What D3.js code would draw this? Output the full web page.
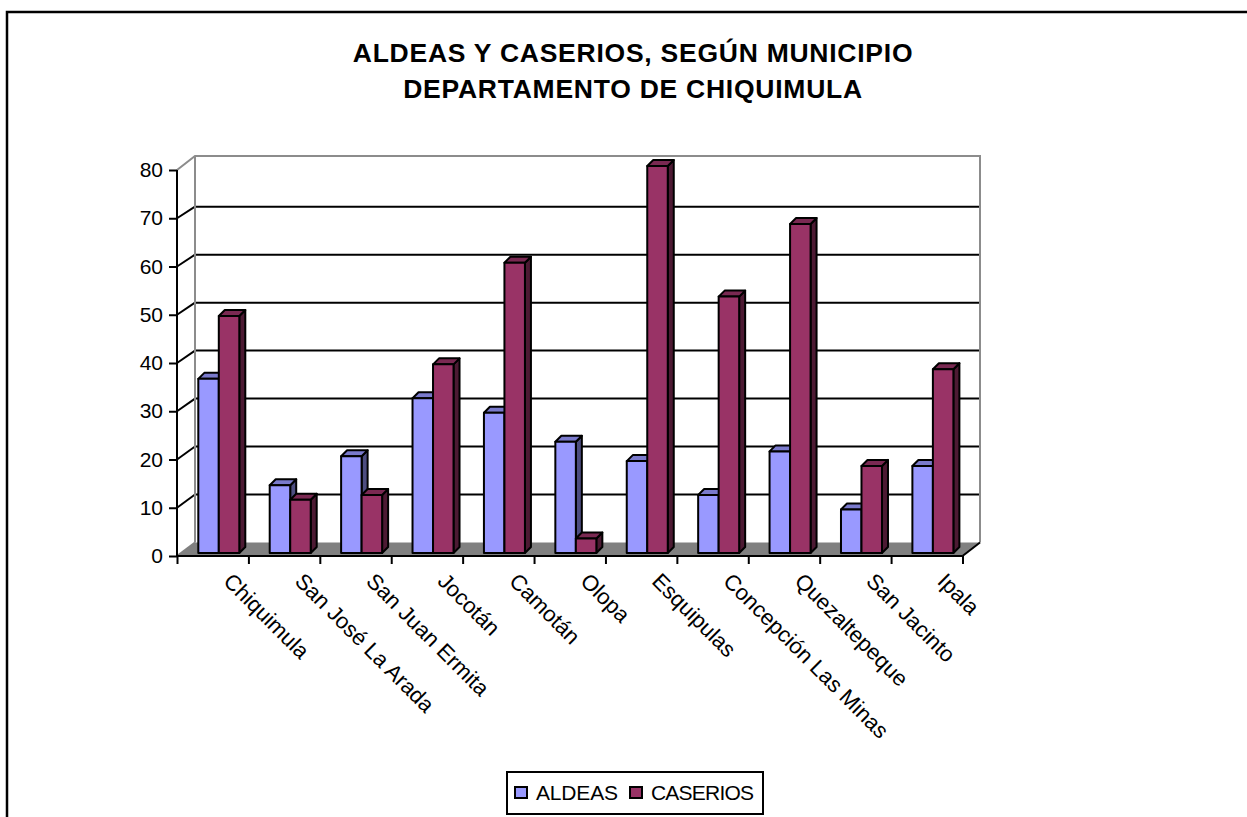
<!DOCTYPE html>
<html>
<head>
<meta charset="utf-8">
<script src="https://d3js.org/d3.v7.min.js"></script>
<style>
  html, body { margin: 0; padding: 0; background: #fff; }
  svg { display: block; font-family: "Liberation Sans", Arial, sans-serif; }
</style>
</head>
<body>
<svg id="chart"></svg>
<script>
const width = 1247;
const height = 817;

const municipios = ["Chiquimula", "San José La Arada", "San Juan Ermita", "Jocotán", "Camotán", "Olopa",
  "Esquipulas", "Concepción Las Minas", "Quezaltepeque", "San Jacinto", "Ipala"];
const aldeas = [36, 14, 20, 32, 29, 23, 19, 12, 21, 9, 18];
const caserios = [49, 11, 12, 39, 60, 3, 80, 53, 68, 18, 38];
const seriesNames = ["ALDEAS", "CASERIOS"];
const titleLines = ["ALDEAS Y CASERIOS, SEGÚN MUNICIPIO", "DEPARTAMENTO DE CHIQUIMULA"];
const yTicks = [0, 10, 20, 30, 40, 50, 60, 70, 80];

// front face colour, top, side
const colors = [
  { front: "#9999ff", top: "#7a7acc", side: "#4d4d80" },
  { front: "#993366", top: "#7a2952", side: "#4d1a33" }
];

// the fake 3d depth of the plot box and of one bar
const wallDx = 18, barDx = 6, barDy = 6;

const svg = d3.select("#chart").attr("width", width).attr("height", height);

// outer chart frame, only the top and left edges are in the picture
svg.append("path")
  .attr("d", "M7,817V12H1247")
  .attr("fill", "none").attr("stroke", "#000").attr("stroke-width", 2.5);

const title = svg.append("text")
  .attr("text-anchor", "middle")
  .attr("font-size", 26.5).attr("font-weight", "bold").attr("fill", "#000")
  .attr("letter-spacing", 0.75);
titleLines.forEach((line, i) => {
  title.append("tspan").attr("x", 633).attr("y", 62 + i * 36).text(line);
});

// scales: front axis, back wall, bar heights
const x = d3.scaleBand().domain(municipios).range([177, 962.5]);
const xEdges = d3.scaleLinear().domain([0, municipios.length]).range([177, 962.5]);
const yFront = d3.scaleLinear().domain([0, 80]).range([556, 170]);
const yBack = d3.scaleLinear().domain([0, 70, 80]).range([542.5, 206.7, 156]);
const yBar = d3.scaleLinear().domain([0, 80]).range([553, 166]);
const groupX = d3.scaleBand().domain([0, 1]).range([0, 41]);

const wallLeft = 177 + wallDx, wallRight = 962.5 + wallDx - 0.5;

// floor
svg.append("path")
  .attr("d", d3.line()([[177, yFront(0)], [wallLeft, yBack(0)], [wallRight, yBack(0)], [962.5, yFront(0)]]) + "Z")
  .attr("fill", "#808080");

// back gridlines and the short oblique joins on the left wall
const grid = svg.append("g");
grid.selectAll("line.back").data(yTicks.slice(1, -1)).join("line").attr("class", "back")
  .attr("x1", wallLeft).attr("x2", wallRight)
  .attr("y1", d => yBack(d)).attr("y2", d => yBack(d))
  .attr("stroke", "#000").attr("stroke-width", 2);
grid.selectAll("line.oblique").data(yTicks.slice(0, -1)).join("line").attr("class", "oblique")
  .attr("x1", 177).attr("x2", wallLeft)
  .attr("y1", d => yFront(d)).attr("y2", d => yBack(d))
  .attr("stroke", d => d === 0 ? "#808080" : "#000").attr("stroke-width", 2);

// grey wall edges
svg.append("path")
  .attr("d", d3.line()([[177, yFront(80)], [wallLeft, yBack(80)], [wallRight, yBack(80)], [wallRight, yBack(0)]]))
  .attr("fill", "none").attr("stroke", "#8c8c8c").attr("stroke-width", 2);
svg.append("line")
  .attr("x1", wallLeft).attr("x2", wallLeft).attr("y1", yBack(80)).attr("y2", yBack(0))
  .attr("stroke", "#8c8c8c").attr("stroke-width", 2);
svg.append("line")
  .attr("x1", 962.5).attr("x2", wallRight).attr("y1", yFront(0)).attr("y2", yBack(0))
  .attr("stroke", "#000").attr("stroke-width", 2);

// bars, left to right so the later ones hide the sides of the earlier
const bars = svg.append("g").attr("stroke", "#000").attr("stroke-width", 2).attr("stroke-linejoin", "round");
municipios.forEach((m, i) => {
  [aldeas[i], caserios[i]].forEach((v, s) => {
    const x0 = x(m) + 21.3 + groupX(s);
    const x1 = x0 + groupX.bandwidth();
    const yt = yBar(v), yb = yBar(0);
    const g = bars.append("g");
    g.append("path") // side
      .attr("d", d3.line()([[x1, yb], [x1, yt], [x1 + barDx, yt - barDy], [x1 + barDx, yb - barDy]]) + "Z")
      .attr("fill", colors[s].side);
    g.append("path") // top
      .attr("d", d3.line()([[x0, yt], [x0 + barDx, yt - barDy], [x1 + barDx, yt - barDy], [x1, yt]]) + "Z")
      .attr("fill", colors[s].top);
    g.append("rect")
      .attr("x", x0).attr("y", yt).attr("width", x1 - x0).attr("height", yb - yt)
      .attr("fill", colors[s].front);
  });
});

// axes
const yAxis = svg.append("g").attr("transform", "translate(177,0)")
  .call(d3.axisLeft(yFront).tickValues(yTicks).tickSize(8).tickPadding(6).tickFormat(d3.format("d")));
yAxis.selectAll("path,line").attr("stroke", "#000").attr("stroke-width", 2);
yAxis.select(".domain").attr("d", `M0,${yFront(80)}V${yFront(0)}`);
yAxis.selectAll("text").attr("font-size", 21).attr("font-family", null).attr("fill", "#000");

const xAxis = svg.append("g").attr("transform", `translate(0,${yFront(0)})`)
  .call(d3.axisBottom(xEdges).tickValues(d3.range(municipios.length + 1)).tickSize(8).tickFormat(""));
xAxis.selectAll("path,line").attr("stroke", "#000").attr("stroke-width", 2);
xAxis.select(".domain").attr("d", `M177,0H962.5`);

svg.append("g").selectAll("text").data(municipios).join("text")
  .attr("transform", d => `translate(${x(d) + x.bandwidth() / 2 + 15},577) rotate(45)`)
  .attr("font-size", 22).attr("fill", "#000")
  .attr("dy", "0.35em")
  .text(d => d);

// legend
const legend = svg.append("g");
legend.append("rect").attr("x", 507).attr("y", 772).attr("width", 256).attr("height", 42)
  .attr("fill", "#fff").attr("stroke", "#000").attr("stroke-width", 2);
const legendX = d3.scaleOrdinal().domain(seriesNames).range([515, 630]);
const legendTextLength = d3.scaleOrdinal().domain(seriesNames).range([82, 103]);
seriesNames.forEach((name, s) => {
  legend.append("rect").attr("x", legendX(name)).attr("y", 787).attr("width", 12).attr("height", 11)
    .attr("fill", colors[s].front).attr("stroke", "#000").attr("stroke-width", 2);
  legend.append("text").attr("x", legendX(name) + 21).attr("y", 800)
    .attr("font-size", 21).attr("fill", "#000")
    .attr("textLength", legendTextLength(name)).attr("lengthAdjust", "spacing")
    .text(name);
});
</script>
</body>
</html>
